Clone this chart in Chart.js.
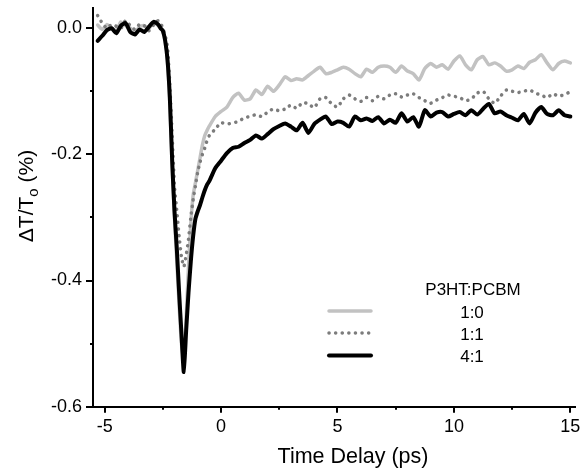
<!DOCTYPE html>
<html>
<head>
<meta charset="utf-8">
<script src="https://cdn.jsdelivr.net/npm/chart.js@4.4.1/dist/chart.umd.min.js"></script>
<style>
  html, body { margin: 0; padding: 0; background: #fff; }
  canvas { display: block; }
</style>
</head>
<body>
<canvas id="chart" width="581" height="470"></canvas>
<script>
// time delay (ps)
const time = [
  -5.3, -5.1, -4.9, -4.7, -4.5, -4.3, -4.1, -3.9, -3.7, -3.5, -3.3, -3.1, -2.9, -2.7,
  -2.6, -2.5, -2.4, -2.3, -2.2, -2.1, -2.0, -1.9, -1.8, -1.7, -1.6, -1.5, -1.4, -1.3,
  -1.2, -1.1, -1.0, -0.9, -0.8, -0.7, -0.6,
  -0.5, -0.25, 0, 0.25, 0.5, 0.75, 1, 1.25, 1.5, 1.75, 2, 2.25, 2.5, 2.75, 3, 3.25,
  3.5, 3.75, 4, 4.25, 4.5, 4.75, 5, 5.25, 5.5, 5.75, 6, 6.25, 6.5, 6.75, 7, 7.25,
  7.5, 7.75, 8, 8.25, 8.5, 8.75, 9, 9.25, 9.5, 9.75, 10, 10.25, 10.5, 10.75, 11,
  11.25, 11.5, 11.75, 12, 12.25, 12.5, 12.75, 13, 13.25, 13.5, 13.75, 14, 14.25,
  14.5, 14.75, 15
];

// 1:0
const ratio10 = [
  0.005, -0.002, 0.006, 0.0, -0.004, 0.01, 0.004, 0.0, -0.006, 0.002, 0.004, 0.0, 0.008, 0.004,
  0.0, -0.005, -0.02, -0.055, -0.12, -0.22, -0.3, -0.37, -0.44, -0.5, -0.525, -0.46, -0.38, -0.31,
  -0.265, -0.245, -0.225, -0.205, -0.185, -0.17, -0.162,
  -0.155, -0.14, -0.132, -0.125, -0.11, -0.103, -0.114, -0.112, -0.098, -0.105, -0.092, -0.1,
  -0.09, -0.077, -0.083, -0.08, -0.082, -0.075, -0.068, -0.062, -0.072, -0.07, -0.066, -0.062,
  -0.065, -0.072, -0.077, -0.065, -0.07, -0.062, -0.06, -0.062, -0.07, -0.06, -0.068, -0.072,
  -0.082, -0.064, -0.056, -0.062, -0.058, -0.065, -0.052, -0.044, -0.058, -0.066, -0.05, -0.045,
  -0.058, -0.055, -0.06, -0.068, -0.066, -0.06, -0.064, -0.054, -0.05, -0.042, -0.055, -0.066,
  -0.056, -0.052, -0.055
];

// 1:1
const ratio11 = [
  0.02, 0.008, 0.0, 0.006, 0.003, 0.0, 0.012, 0.004, -0.002, 0.006, 0.004, -0.004, 0.005, 0.012,
  0.008, 0.0, -0.012, -0.03, -0.09, -0.17, -0.25, -0.29, -0.33, -0.362, -0.378, -0.36, -0.335, -0.3,
  -0.272, -0.25, -0.228, -0.212, -0.2, -0.19, -0.178,
  -0.17, -0.16, -0.15, -0.152, -0.15, -0.148, -0.142, -0.14, -0.137, -0.14,
  -0.133, -0.128, -0.131, -0.128, -0.122, -0.127, -0.118, -0.12, -0.126, -0.112,
  -0.11, -0.12, -0.125, -0.112, -0.106, -0.112, -0.116, -0.11, -0.115, -0.108,
  -0.112, -0.106, -0.104, -0.109, -0.106, -0.104, -0.11, -0.115, -0.119, -0.114,
  -0.11, -0.106, -0.108, -0.11, -0.115, -0.112, -0.103, -0.1, -0.112, -0.119,
  -0.108, -0.098, -0.1, -0.102, -0.1, -0.098, -0.103, -0.106, -0.11, -0.104,
  -0.108, -0.105, -0.101
];

// 4:1
const ratio41 = [
  -0.02, -0.012, -0.003, 0.0, -0.008, 0.004, 0.008, -0.006, -0.01, -0.002, -0.006, 0.002, 0.01, 0.006,
  0.0, -0.004, -0.02, -0.05, -0.11, -0.21, -0.29, -0.35, -0.42, -0.485, -0.545, -0.48, -0.42, -0.37,
  -0.33, -0.302, -0.29, -0.28, -0.268, -0.257, -0.248,
  -0.242, -0.222, -0.21, -0.198, -0.19, -0.188, -0.182, -0.177, -0.17, -0.175,
  -0.168, -0.16, -0.155, -0.151, -0.156, -0.162, -0.15, -0.166, -0.152, -0.145,
  -0.14, -0.152, -0.148, -0.15, -0.156, -0.14, -0.146, -0.143, -0.147, -0.141,
  -0.151, -0.145, -0.15, -0.135, -0.148, -0.141, -0.156, -0.13, -0.14, -0.134,
  -0.133, -0.14, -0.136, -0.133, -0.138, -0.13, -0.137, -0.128, -0.12, -0.135,
  -0.132, -0.138, -0.142, -0.146, -0.136, -0.151, -0.134, -0.125, -0.136, -0.138,
  -0.13, -0.138, -0.14
];

const xTicks = [-5, 0, 5, 10, 15];
const xMinor = [-2.5, 2.5, 7.5, 12.5];
const yTicks = [-0.6, -0.4, -0.2, 0.0];
const yMinor = [-0.5, -0.3, -0.1];
const legendTitle = "P3HT:PCBM";
const legendLabels = ["1:0", "1:1", "4:1"];

const FONT = "'Liberation Sans', Arial, sans-serif";

function points(values) {
  return time.map((t, i) => ({ x: t, y: values[i] }));
}

const lineStyles = [
  { color: "#c2c2c2", width: 3.5, dash: [] },
  { color: "#7c7c7c", width: 3.5, dash: [0.1, 6.5] },
  { color: "#000000", width: 4, dash: [] }
];

// tick marks, axis titles and legend
const extras = {
  id: "extras",
  afterDraw(chart) {
    const { ctx, scales: { x, y }, chartArea } = chart;
    ctx.save();
    ctx.strokeStyle = "#000";
    ctx.lineWidth = 2;
    ctx.lineCap = "butt";

    const xTick = (v, len) => {
      const px = Math.round(x.getPixelForValue(v));
      ctx.beginPath();
      ctx.moveTo(px, chartArea.bottom);
      ctx.lineTo(px, chartArea.bottom + len);
      ctx.stroke();
    };
    const yTick = (v, len) => {
      const py = Math.round(y.getPixelForValue(v));
      ctx.beginPath();
      ctx.moveTo(chartArea.left, py);
      ctx.lineTo(chartArea.left - len, py);
      ctx.stroke();
    };
    xTicks.forEach(v => xTick(v, 6));
    xMinor.forEach(v => xTick(v, 3));
    yTicks.forEach(v => yTick(v, 7));
    yMinor.forEach(v => yTick(v, 3));

    ctx.fillStyle = "#000";

    // x title
    ctx.font = "21.5px " + FONT;
    ctx.textAlign = "center";
    ctx.textBaseline = "alphabetic";
    ctx.fillText("Time Delay (ps)", 353, 463);

    // y title with subscript
    ctx.save();
    ctx.translate(33, 196);
    ctx.rotate(-Math.PI / 2);
    const big = "21px " + FONT, small = "15px " + FONT;
    ctx.font = big;
    const w1 = ctx.measureText("\u0394T/T").width;
    const w3 = ctx.measureText(" (%)").width;
    ctx.font = small;
    const w2 = ctx.measureText("o").width;
    let cx = -(w1 + w2 + w3) / 2;
    ctx.textAlign = "left";
    ctx.font = big;
    ctx.fillText("\u0394T/T", cx, 0);
    cx += w1;
    ctx.font = small;
    ctx.fillText("o", cx, 5);
    cx += w2;
    ctx.font = big;
    ctx.fillText(" (%)", cx, 0);
    ctx.restore();

    // legend
    ctx.font = "17px " + FONT;
    ctx.textAlign = "center";
    ctx.textBaseline = "middle";
    ctx.fillText(legendTitle, 473, 290);
    const rows = [311, 333, 355.5];
    legendLabels.forEach((label, i) => {
      const s = lineStyles[i];
      ctx.save();
      ctx.strokeStyle = s.color;
      ctx.lineWidth = s.width;
      ctx.lineCap = "round";
      ctx.setLineDash(s.dash);
      ctx.beginPath();
      ctx.moveTo(329, rows[i]);
      ctx.lineTo(371, rows[i]);
      ctx.stroke();
      ctx.restore();
      ctx.fillText(label, 472, rows[i] + 2);
    });
    ctx.restore();
  }
};

const series = [ratio10, ratio11, ratio41];

new Chart(document.getElementById("chart"), {
  type: "line",
  data: {
    datasets: series.map((values, i) => ({
      label: legendLabels[i],
      data: points(values),
      borderColor: lineStyles[i].color,
      borderWidth: lineStyles[i].width,
      borderDash: lineStyles[i].dash,
      borderCapStyle: "round",
      borderJoinStyle: "round",
      pointRadius: 0,
      tension: 0.2,
      fill: false,
      order: 3 - i // black on top
    }))
  },
  options: {
    responsive: false,
    animation: false,
    devicePixelRatio: 1,
    layout: { padding: { left: 0, top: 8, right: 6, bottom: 0 } },
    plugins: { legend: { display: false }, tooltip: { enabled: false } },
    scales: {
      x: {
        type: "linear",
        min: -5.5,
        max: 15.2,
        afterBuildTicks: s => { s.ticks = xTicks.map(v => ({ value: v })); },
        afterFit: s => { s.height = 63.3; s.paddingLeft = 0; s.paddingRight = 0; },
        ticks: {
          color: "#000",
          font: { family: FONT, size: 18 },
          padding: 10,
          maxRotation: 0,
          autoSkip: false,
          callback: v => String(v)
        },
        grid: { display: true, drawOnChartArea: false, drawTicks: false },
        border: { display: true, color: "#000", width: 2 }
      },
      y: {
        type: "linear",
        min: -0.6,
        max: 0.032,
        afterBuildTicks: s => { s.ticks = yTicks.map(v => ({ value: v })); },
        afterFit: s => { s.width = 93; s.paddingTop = 0; s.paddingBottom = 0; },
        ticks: {
          color: "#000",
          font: { family: FONT, size: 18 },
          padding: 11,
          autoSkip: false,
          callback: v => (Math.abs(v) < 1e-9 ? "0.0" : v.toFixed(1))
        },
        grid: { display: true, drawOnChartArea: false, drawTicks: false },
        border: { display: true, color: "#000", width: 2 }
      }
    }
  },
  plugins: [extras]
});
</script>
</body>
</html>
